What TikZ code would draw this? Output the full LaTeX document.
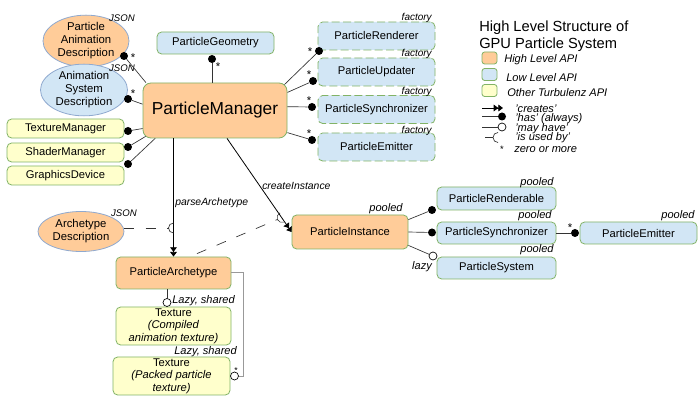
\documentclass[tikz,border=0pt]{standalone}
\usepackage{fontspec}
\setmainfont{Liberation Sans}
\usetikzlibrary{arrows.meta,shapes.geometric,calc}
\definecolor{orfill}{HTML}{FFCC99}
\definecolor{blfill}{HTML}{D2E6F5}
\definecolor{yefill}{HTML}{FFFFCC}
\definecolor{grline}{HTML}{82B366}
\definecolor{elline}{HTML}{8FA9CF}
\definecolor{lnc}{HTML}{333333}
\newdimen\pxu \pxu=0.75pt
\newcommand\fnode{\fontsize{8.4}{9.5}\selectfont}
\newcommand\flab{\fontsize{8.3}{9}\selectfont\itshape}
\begin{document}
\begin{tikzpicture}[x=0.75pt,y=-0.75pt,
  box/.style={draw=grline,line width=0.6pt,rounded corners=3.5pt,inner sep=0pt,align=center,font=\fnode},
  orbox/.style={box,fill=orfill},
  blbox/.style={box,fill=blfill},
  yebox/.style={box,fill=yefill},
  dbox/.style={blbox,dash pattern=on 6pt off 2.5pt},
  ell/.style={ellipse,draw=elline,line width=0.6pt,inner sep=0pt,align=center,font=\fontsize{8.5}{9.75}\selectfont},
  lab/.style={inner sep=0pt,font=\flab},
  smlab/.style={inner sep=0pt,font=\fontsize{7.2}{8}\selectfont\itshape},
  astl/.style={inner sep=0pt,font=\fontsize{8.5}{8}\selectfont},
  hasdot/.style={circle,fill=black,inner sep=0pt,minimum size=6pt},
  maydot/.style={circle,draw=black,fill=white,line width=0.5pt,inner sep=0pt,minimum size=6pt},
  conn/.style={draw=lnc,line width=0.5pt},
  creates/.style={draw=black,line width=0.6pt,-{Triangle[length=3.5pt,width=5pt,fill=black]Triangle[length=3.5pt,width=5pt,fill=black]}},
  usedby/.style={conn,dash pattern=on 7.5pt off 8.5pt},
]
\useasboundingbox (0,0) rectangle (700,402);
\fill[white] (0,0) rectangle (700,402);

% ---------- top-left cluster ----------
\node[ell,fill=orfill,minimum width=86\pxu,minimum height=44\pxu] (pad) at (86,41) {Particle\\Animation\\Description};
\node[ell,fill=blfill,minimum width=87\pxu,minimum height=46\pxu] (asd) at (84,90) {Animation\\System\\Description};
\node[blbox,minimum width=117\pxu,minimum height=22\pxu] (geom) at (215.5,43) {ParticleGeometry};
\node[orbox,rounded corners=6pt,minimum width=144\pxu,minimum height=55\pxu,font=\fontsize{13}{15}\selectfont] (pm) at (215,110.5) {ParticleManager};
\node[yebox,minimum width=117\pxu,minimum height=19\pxu] (tm) at (65.5,128.5) {TextureManager};
\node[yebox,minimum width=117\pxu,minimum height=19\pxu] (sm) at (65.5,152.5) {ShaderManager};
\node[yebox,minimum width=117\pxu,minimum height=19\pxu] (gd) at (65.5,175.5) {GraphicsDevice};

\node[smlab] at (122,18) {JSON};
\node[smlab] at (122,68) {JSON};

% ---------- factory boxes ----------
\node[dbox,minimum width=117\pxu,minimum height=28\pxu] (rend) at (376.5,36) {ParticleRenderer};
\node[dbox,minimum width=117\pxu,minimum height=28\pxu] (upd) at (376.5,72) {ParticleUpdater};
\node[dbox,minimum width=117\pxu,minimum height=28\pxu] (psync) at (376.5,109.5) {ParticleSynchronizer};
\node[dbox,minimum width=117\pxu,minimum height=28\pxu] (pemit) at (376.5,147) {ParticleEmitter};
\foreach \yy in {18,54,92,131} \node[smlab,anchor=east,font=\fontsize{7.5}{8}\selectfont\itshape] at (432,\yy) {factory};

% ---------- dots of ParticleManager ----------
\node[hasdot] (dpad) at (124,56) {};
\node[hasdot] (dasd) at (128,99) {};
\node[hasdot] (dgeom) at (212,59) {};
\node[hasdot] (dtm) at (128,131) {};
\node[hasdot] (dsm) at (128,147) {};
\node[hasdot] (dgd) at (128,164) {};
\node[hasdot] (drend) at (319,51) {};
\node[hasdot] (dupd) at (313,81) {};
\node[hasdot] (dsync) at (312,107) {};
\node[hasdot] (demit) at (312,140) {};

\draw[conn] (pm.158) -- (dpad);
\draw[conn] (pm.175) -- (dasd);
\draw[conn] (pm.north -| dgeom) -- (dgeom);
\draw[conn] (pm.194) -- (dtm);
\draw[conn] ($(pm.south west)+(3,-2)$) -- (dsm);
\draw[conn] (pm.205) -- (dgd);
\draw[conn] ($(pm.north east)+(-3,2)$) -- (drend);
\draw[conn] (pm.14) -- (dupd);
\draw[conn] (pm.3) -- (dsync);
\draw[conn] (pm.-17) -- (demit);

\node[astl] at (133,58) {*};
\node[astl] at (133,94) {*};
\node[astl] at (218,67) {*};
\node[astl] at (310,52) {*};
\node[astl] at (309,75) {*};
\node[astl] at (309,101) {*};
\node[astl] at (309,134) {*};

% ---------- legend ----------
\node[anchor=north west,inner sep=0pt,align=left,font=\fontsize{11}{12.75}\selectfont] (title) at (479,21) {High Level Structure of\\GPU Particle System};
\node[box,fill=orfill,rounded corners=2pt,minimum width=15\pxu,minimum height=12\pxu] (sw1) at (489.5,58) {};
\node[box,fill=blfill,rounded corners=2pt,minimum width=15\pxu,minimum height=12\pxu] (sw2) at (489.5,74.5) {};
\node[box,fill=yefill,rounded corners=2pt,minimum width=15\pxu,minimum height=12\pxu] (sw3) at (489.5,90.5) {};
\node[lab,anchor=west] at (504,60) {High Level API};
\node[lab,anchor=west] at (506,78) {Low Level API};
\node[lab,anchor=west] at (507,93) {Other Turbulenz API};

\coordinate (lc0) at (482,108);
\coordinate (lc1) at (503,108);
\draw[creates] (lc0) -- (lc1);
\coordinate (lh0) at (482,116.5);
\node[hasdot] (lhas) at (502,116.5) {};
\draw[conn] (lh0) -- (lhas);
\coordinate (lm0) at (482,127);
\node[maydot] (lmay) at (502,127) {};
\draw[conn] (lm0) -- (lmay);
\coordinate (lu0) at (485,137.5);
\coordinate (lu1) at (498,137.5);
\draw[conn] (lu0) -- ($(lu1)+(-5,0)$);
\draw[conn] (lu1) ++(90:3.75pt) arc[start angle=90,end angle=270,radius=3.75pt];
\node[astl,font=\fontsize{7}{7}\selectfont] at (502,149) {*};
\node[lab,anchor=west] at (515,109) {'creates'};
\node[lab,anchor=west] at (515,119) {'has' (always)};
\node[lab,anchor=west] at (515,128.5) {'may have'};
\node[lab,anchor=west] at (515,138) {'is used by'};
\node[lab,anchor=west] at (514,150) {zero or more};

% ---------- lower part ----------
\node[ell,fill=orfill,minimum width=86\pxu,minimum height=40\pxu] (ad) at (81,231.5) {Archetype\\Description};
\node[smlab] at (124,213) {JSON};
\node[orbox,minimum width=115\pxu,minimum height=32\pxu] (arch) at (173.5,273) {ParticleArchetype};
\node[yebox,minimum width=115\pxu,minimum height=38\pxu] (tex1) at (173.5,326) {Texture\\\textit{(Compiled}\\\textit{animation texture)}};
\node[yebox,minimum width=117\pxu,minimum height=38\pxu] (tex2) at (171.5,376) {Texture\\\textit{(Packed particle}\\\textit{texture)}};
\node[orbox,minimum width=116\pxu,minimum height=34\pxu] (inst) at (350,232) {ParticleInstance};
\node[blbox,minimum width=119\pxu,minimum height=23\pxu] (rbl) at (496.5,198.5) {ParticleRenderable};
\node[blbox,minimum width=119\pxu,minimum height=22\pxu] (sync2) at (496.5,233) {ParticleSynchronizer};
\node[blbox,minimum width=119\pxu,minimum height=22\pxu] (sys) at (496.5,268) {ParticleSystem};
\node[blbox,minimum width=117\pxu,minimum height=22\pxu] (emit2) at (638.5,233) {ParticleEmitter};

% creates arrows
\draw[creates] (pm.south -| arch.north) -- (arch.north);
\draw[creates] ($(pm.south)+(12,0)$) -- (inst.west);
\node[lab,anchor=west,font=\fontsize{7.8}{8}\selectfont\itshape] at (175,203) {parseArchetype};
\node[lab,anchor=west,font=\fontsize{7.8}{8}\selectfont\itshape] at (262,186) {createInstance};

% used-by sockets
\coordinate (sockP) at (173.5,228);
\draw[usedby] ($(ad.east)+(0,-3.5)$) -- ($(sockP)+(-5,0)$);
\draw[conn] (sockP) ++(90:3.75pt) arc[start angle=90,end angle=270,radius=3.75pt];
\coordinate (sockC) at (282,217.5);
\draw[usedby] ($(arch.north)+(23.5,-3)$) -- ($(sockC)+(203.2:3.75pt)$);
\draw[conn] (sockC) ++(113.2:3.75pt) arc[start angle=113.2,end angle=293.2,radius=3.75pt];

% archetype textures
\node[maydot] (mt1) at (167,302.5) {};
\draw[conn] (arch.south -| mt1) -- (mt1);
\node[lab,anchor=west] at (172,301) {Lazy, shared};
\node[lab,anchor=west] at (174,352) {Lazy, shared};
\node[maydot] (mt2) at (234.5,376) {};
\draw[conn,draw=gray!80] ($(arch.east)+(0,-1)$) -- ++(12,0) |- (mt2);
\node[astl,font=\fontsize{6.5}{7}\selectfont] at (236,371) {*};

% instance children
\node[hasdot] (drbl) at (432,210) {};
\draw[conn] ($(inst.north east)+(0,5)$) -- (drbl);
\node[hasdot] (dsync2) at (432,232.5) {};
\draw[conn] (inst.east) -- (dsync2);
\node[maydot] (msys) at (433,256) {};
\draw[conn] ($(inst.south east)+(0,-4)$) -- (msys);
\node[hasdot] (demit2) at (575,233) {};
\draw[conn] (sync2.east) -- (demit2);
\node[astl] at (570,228) {*};

\node[lab] at (386,209) {pooled};
\node[lab] at (537,183) {pooled};
\node[lab] at (535,216) {pooled};
\node[lab] at (537,250) {pooled};
\node[lab] at (678,216) {pooled};
\node[lab] at (422,267) {lazy};
\end{tikzpicture}
\end{document}
